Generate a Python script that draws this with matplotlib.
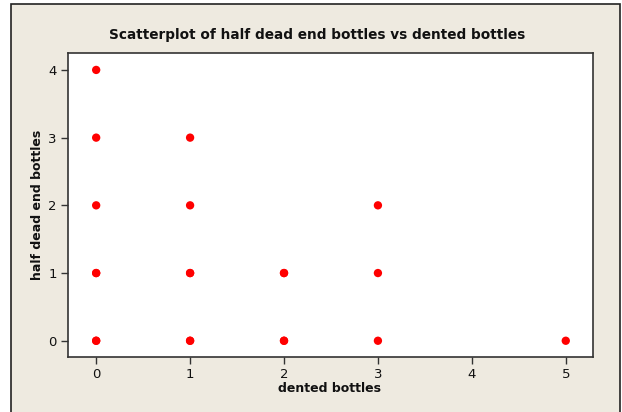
import matplotlib
matplotlib.use("Agg")
import matplotlib.pyplot as plt
from matplotlib.patches import Rectangle

dented = [0, 0, 0, 0, 0, 0, 0, 1, 1, 1, 1, 1, 1, 2, 2, 2, 2, 3, 3, 3, 5]
half_dead_end = [0, 0, 1, 1, 2, 3, 4, 0, 0, 1, 1, 2, 3, 0, 0, 1, 1, 0, 1, 2, 0]

x_ticks = [0, 1, 2, 3, 4, 5]
y_ticks = [0, 1, 2, 3, 4]

W, H = 622, 412
fig = plt.figure(figsize=(W / 100, H / 100), dpi=100)
fig.patch.set_facecolor("white")

# beige panel with a thin frame
panel = Rectangle((11 / W, -0.05), (620 - 11) / W, 408 / H + 0.05,
                  transform=fig.transFigure, facecolor="#EEEAE0",
                  edgecolor="#222222", linewidth=1.2, zorder=0)
fig.patches.append(panel)

left, right, top, bottom = 68, 593, 53, 357
ax = fig.add_axes([left / W, 1 - bottom / H, (right - left) / W, (bottom - top) / H])
ax.set_zorder(2)
ax.set_facecolor("white")
ax.scatter(dented, half_dead_end, s=36, color="#FF0000", edgecolors="none", zorder=3)

ax.set_xlim(-0.30, 5.29)
ax.set_ylim(-0.24, 4.25)
ax.set_xticks(x_ticks)
ax.set_yticks(y_ticks)
ax.tick_params(direction="out", length=5, width=1, color="#333333",
               labelsize=9.5, labelcolor="#111111", pad=3)
for s in ax.spines.values():
    s.set_color("#333333")
    s.set_linewidth(1.2)

fig.text(317 / W, 1 - 35 / H, "Scatterplot of half dead end bottles vs dented bottles",
         ha="center", va="center", fontsize=9.8, fontweight="bold", color="#111111", zorder=3)
fig.text(330 / W, 1 - 389 / H, "dented bottles", ha="center", va="center",
         fontsize=9, fontweight="bold", color="#111111", zorder=3)
fig.text(38 / W, 1 - 205 / H, "half dead end bottles", ha="center", va="center",
         rotation=90, fontsize=9, fontweight="bold", color="#111111", zorder=3)

fig.savefig("out.png", dpi=100)
